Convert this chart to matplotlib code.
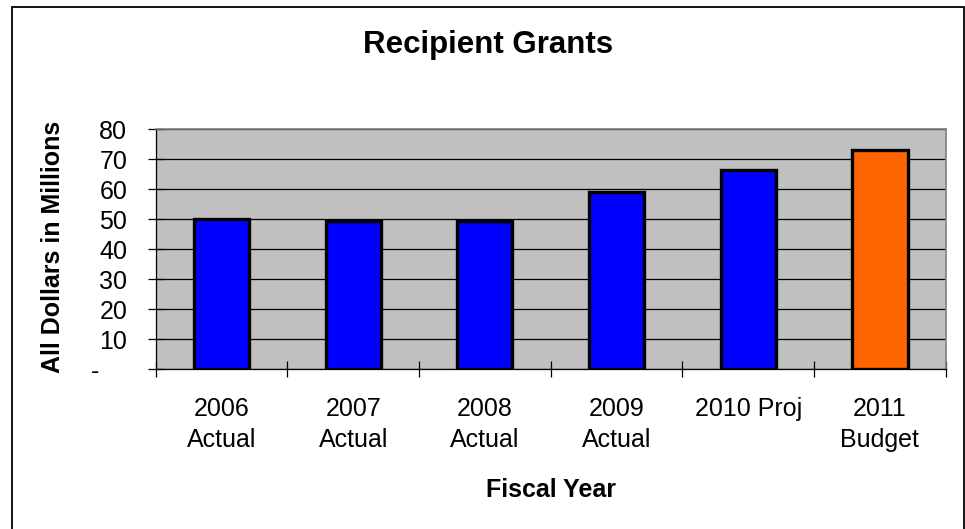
import matplotlib.pyplot as plt
from matplotlib.patches import Rectangle
from matplotlib.ticker import FixedLocator, FuncFormatter

plt.rcParams['font.family'] = ['Liberation Sans', 'DejaVu Sans']

# Recipient grants by fiscal year, $ millions
categories = ['2006\nActual', '2007\nActual', '2008\nActual', '2009\nActual', '2010 Proj', '2011\nBudget']
grants = [50.0, 49.3, 49.3, 59.2, 66.4, 73.1]
bar_colors = ['#0000FF', '#0000FF', '#0000FF', '#0000FF', '#0000FF', '#FF6600']
y_ticks = [0, 10, 20, 30, 40, 50, 60, 70, 80]

fig = plt.figure(figsize=(9.65, 5.29), dpi=100)
ax = fig.add_axes([0.1613, 0.3019, 0.8187, 0.4537])
ax.set_facecolor('#C0C0C0')

x = list(range(len(categories)))
ax.bar(x, grants, width=0.42, color=bar_colors, edgecolor='black', linewidth=2.4, zorder=3)

ax.set_xlim(-0.5, len(categories) - 0.5)
ax.set_ylim(0, 80)

# horizontal gridlines
ax.set_yticks(y_ticks)
ax.yaxis.grid(True, color='black', linewidth=0.9, zorder=1)
ax.set_axisbelow(True)
ax.yaxis.set_major_formatter(FuncFormatter(lambda v, p: '-    ' if v == 0 else f'{v:.0f}'))
ax.tick_params(axis='y', direction='inout', length=11, width=0.9, pad=15, labelsize=18)

# ticks between categories, labels at the centres
ax.xaxis.set_major_locator(FixedLocator([i - 0.5 for i in range(len(categories) + 1)]))
ax.xaxis.set_major_formatter(FuncFormatter(lambda v, p: ''))
ax.xaxis.set_minor_locator(FixedLocator(x))
ax.set_xticklabels(categories, minor=True, fontsize=18, linespacing=1.35, va='top')
ax.tick_params(axis='x', which='major', direction='inout', length=12, width=0.9)
ax.tick_params(axis='x', which='minor', length=0, pad=20)

for side in ['top', 'right']:
    ax.spines[side].set_color('#808080')
    ax.spines[side].set_linewidth(1.2)
for side in ['left', 'bottom']:
    ax.spines[side].set_color('black')
    ax.spines[side].set_linewidth(0.9)

fig.text(0.5057, 1 - 45 / 529, 'Recipient Grants', ha='center', va='center',
         fontsize=22.5, fontweight='bold')
fig.text(0.5707, 1 - 490 / 529, 'Fiscal Year', ha='center', va='center',
         fontsize=18, fontweight='bold')
fig.text(53 / 965, 1 - 247 / 529, 'All Dollars in Millions', ha='center', va='center',
         rotation=90, fontsize=18, fontweight='bold')

# chart border
fig.patches.append(Rectangle((12 / 965, -0.02), 952 / 965, 1.02 - 7 / 529,
                             transform=fig.transFigure, fill=False,
                             edgecolor='black', linewidth=1.3))

fig.savefig('out.png', dpi=100)
